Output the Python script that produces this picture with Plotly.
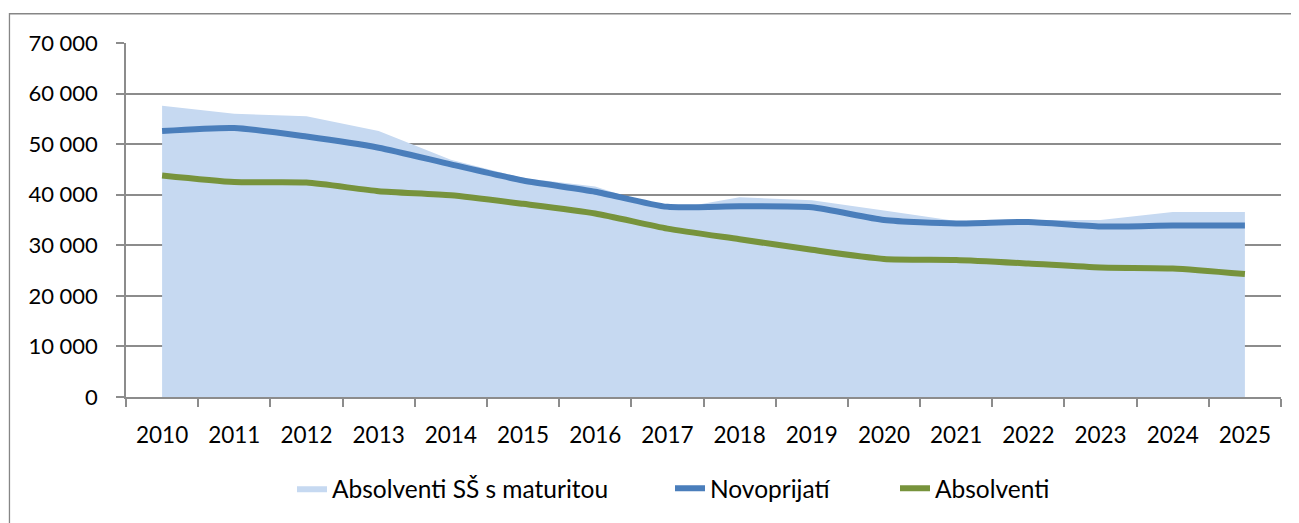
import plotly.graph_objects as go

years = [str(y) for y in range(2010, 2026)]
absolventi_ss = [57600, 56000, 55500, 52600, 46900, 43300, 41600, 37000, 39500, 38900,
                 36900, 34800, 35000, 35000, 36600, 36600]
novoprijati = [52600, 53200, 51500, 49300, 46000, 42800, 40600, 37600, 37700, 37500,
               35000, 34300, 34600, 33700, 33900, 33900]
absolventi = [43800, 42500, 42400, 40700, 39900, 38200, 36300, 33300, 31200, 29100,
              27300, 27100, 26400, 25600, 25400, 24300]
y_ticks = [0, 10000, 20000, 30000, 40000, 50000, 60000, 70000]
y_tick_text = ["0", "10 000", "20 000", "30 000", "40 000", "50 000", "60 000", "70 000"]

xs = list(range(len(years)))
FONT = "Lato"
GRID = "#8c8c8c"
PW = 1155.0  # plot width in px
PH = 357.0   # plot height in px


def px_to_paper(px):
    return (px - 126) / PW


fig = go.Figure()
fig.add_trace(go.Scatter(x=xs, y=absolventi_ss, name="Absolventi SŠ s maturitou",
                         mode="lines", fill="tozeroy", fillcolor="#C6D9F1",
                         line=dict(width=0, color="#C6D9F1"), legend="legend"))
fig.add_trace(go.Scatter(x=xs, y=novoprijati, name="Novoprijatí", mode="lines",
                         line=dict(width=6, color="#4A7EBB", shape="spline", smoothing=0.6),
                         legend="legend2"))
fig.add_trace(go.Scatter(x=xs, y=absolventi, name="Absolventi", mode="lines",
                         line=dict(width=6, color="#77933C", shape="spline", smoothing=0.6),
                         legend="legend3"))

leg_common = dict(orientation="h", xanchor="left", y=-92 / PH, yanchor="middle",
                  font=dict(family=FONT, size=24.5, color="black"), bgcolor="rgba(0,0,0,0)")

fig.update_layout(
    width=1291, height=515,
    margin=dict(l=118, r=18, t=35, b=120),
    paper_bgcolor="white", plot_bgcolor="white",
    font=dict(family=FONT, size=22, color="black"),
    showlegend=True,
    legend=dict(x=px_to_paper(292), **leg_common),
    legend2=dict(x=px_to_paper(670), **leg_common),
    legend3=dict(x=px_to_paper(895), **leg_common),
    shapes=[dict(type="rect", xref="paper", yref="paper",
                 x0=-0.1009, x1=1.03, y0=-0.4, y1=(400 - 13.5) / PH,
                 line=dict(color="#868686", width=1.3), fillcolor="rgba(0,0,0,0)",
                 layer="below")],
)
fig.update_xaxes(
    range=[-0.5, 15.5], tickmode="array", tickvals=xs, ticktext=years,
    ticks="", showgrid=False, zeroline=False,
    showline=True, linecolor=GRID, linewidth=1.5,
    tickfont=dict(size=22.5),
    ticklabelstandoff=17,
    minor=dict(tickmode="array", tickvals=[i - 0.5 for i in range(len(years) + 1)],
               ticks="outside", ticklen=8, tickcolor=GRID, tickwidth=1.5, showgrid=False),
)
fig.update_yaxes(
    range=[0, 70000], tickmode="array", tickvals=y_ticks, ticktext=y_tick_text,
    ticks="outside", ticklen=8, tickcolor=GRID, tickwidth=1.5,
    showgrid=True, gridcolor=GRID, gridwidth=1.5, zeroline=False,
    showline=True, linecolor=GRID, linewidth=1.5,
    ticklabelstandoff=14,
)

fig.write_html("out.html")
